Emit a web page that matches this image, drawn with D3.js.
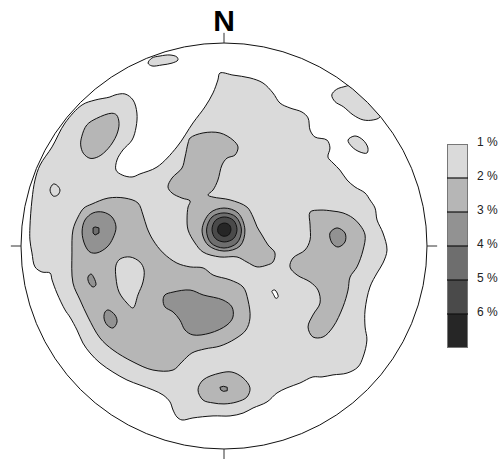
<!DOCTYPE html>
<html><head><meta charset="utf-8">
<script src="https://cdn.jsdelivr.net/npm/d3@7"></script>
<style>html,body{margin:0;padding:0;background:#fff;} svg{display:block;}</style>
</head><body>
<svg id="chart" width="504" height="459"></svg>
<script>
// ---- legend / levels ----
const levels = [1, 2, 3, 4, 5, 6];
const levelLabels = ["1 %", "2 %", "3 %", "4 %", "5 %", "6 %"];
const levelColors = ["#dadada", "#b6b6b6", "#929292", "#6e6e6e", "#4a4a4a", "#262626"];

// ---- contour polygons, net coordinates (east, north) in % of primitive radius ----
const level1Main = [[-2.0,85.2],[4.4,84.2],[12.8,82.8],[19.2,80.3],[24.1,75.4],[27.6,70.4],[32.5,68.0],[38.4,66.0],[41.4,63.1],[42.4,57.1],[44.8,53.7],[50.7,52.2],[52.2,48.3],[51.2,43.8],[53.7,40.9],[57.1,37.4],[60.6,32.5],[64.5,29.1],[69.5,26.1],[71.9,22.7],[74.4,18.7],[75.4,12.8],[78.3,6.4],[80.3,-2.0],[78.3,-8.4],[75.4,-13.3],[71.9,-20.2],[69.5,-31.5],[69.5,-39.9],[70.4,-46.3],[68.5,-54.7],[66.0,-59.6],[60.6,-62.6],[53.7,-63.5],[48.3,-64.5],[43.8,-64.5],[37.4,-67.5],[31.0,-69.9],[26.1,-72.4],[21.2,-76.8],[14.3,-79.8],[9.4,-82.3],[3.0,-83.7],[-5.4,-83.7],[-15.3,-84.7],[-20.7,-85.7],[-23.2,-84.2],[-25.1,-80.8],[-26.6,-76.8],[-30.0,-73.4],[-35.0,-70.9],[-41.4,-68.5],[-47.8,-66.0],[-54.7,-62.1],[-61.1,-57.6],[-66.0,-52.7],[-69.5,-47.8],[-72.4,-41.4],[-75.9,-35.0],[-78.3,-31.5],[-82.3,-23.2],[-84.7,-16.7],[-85.7,-13.3],[-89.7,-12.8],[-93.1,-10.3],[-94.6,-3.4],[-95.6,3.0],[-95.6,9.4],[-94.6,22.7],[-93.1,32.5],[-90.6,39.9],[-84.7,48.8],[-78.3,60.6],[-69.9,69.5],[-63.5,71.9],[-56.2,73.4],[-53.7,74.4],[-48.8,74.9],[-44.8,71.9],[-42.9,65.5],[-43.3,58.6],[-45.3,52.2],[-49.8,47.3],[-52.7,42.4],[-53.2,37.4],[-50.2,35.0],[-45.3,34.0],[-41.4,35.5],[-33.0,38.9],[-23.2,48.8],[-15.3,60.6],[-9.4,68.5],[-5.4,75.4],[-3.0,81.8]];
const level1Hole = [[23.6,-22.2],[25.1,-21.7],[26.7,-25.0],[25.6,-25.8],[24.4,-23.9]];
const level1NorthWest = [[-37.4,90.1],[-35.5,92.6],[-31.5,93.6],[-26.6,94.1],[-23.2,93.1],[-22.7,91.6],[-25.6,90.1],[-30.5,89.2],[-35.5,88.7]];
const level1NorthEastRim = [[53.1,74.4],[55.5,77.2],[60.4,78.8],[67.0,80.8],[79.3,71.9],[76.8,63.5],[73.5,62.1],[68.6,62.1],[63.7,64.5],[58.8,68.6],[54.7,71.1]];
const level1NorthEast = [[61.1,52.2],[64.5,54.2],[68.5,52.2],[70.9,48.3],[70.4,45.8],[67.0,46.3],[63.1,48.8]];
const level1West = [[-85.7,27.6],[-84.1,30.5],[-82.4,30.0],[-80.8,27.6],[-81.9,25.1],[-84.1,24.6]];

const level2NorthWest = [[-70.1,53.8],[-67.6,59.6],[-62.7,62.9],[-55.3,65.4],[-52.9,64.5],[-51.7,60.4],[-52.9,54.7],[-57.0,48.1],[-61.9,44.0],[-66.0,43.2],[-69.3,45.7],[-70.6,49.8]];
const level2Centre = [[-16.7,53.2],[-10.3,55.7],[-2.0,55.7],[4.4,52.2],[6.9,48.8],[5.4,44.8],[1.5,43.3],[-1.0,39.9],[-3.0,32.5],[-5.4,27.6],[-7.9,25.1],[-5.4,24.1],[3.0,22.7],[11.3,19.2],[14.3,14.3],[16.3,9.4],[18.7,5.4],[21.7,0.5],[25.1,-3.4],[24.1,-7.9],[21.2,-9.4],[16.3,-10.3],[11.3,-7.9],[6.4,-5.4],[-2.0,-5.4],[-10.3,-3.0],[-14.3,1.5],[-17.7,7.9],[-18.2,13.8],[-17.7,19.2],[-16.7,22.2],[-20.7,23.6],[-25.6,26.1],[-27.6,29.1],[-25.6,33.5],[-20.7,38.4],[-19.2,43.8],[-17.7,50.7]];
const level2SouthWest = [[-74.4,7.9],[-71.9,14.3],[-69.0,18.7],[-65.0,20.7],[-57.1,23.6],[-48.8,23.6],[-42.4,21.2],[-39.9,15.3],[-37.9,8.9],[-35.0,3.0],[-30.0,-3.4],[-23.2,-8.4],[-16.7,-10.3],[-10.3,-10.8],[-5.4,-14.3],[3.0,-16.7],[9.4,-20.2],[11.8,-26.6],[12.8,-35.5],[10.8,-41.4],[5.4,-45.8],[-2.0,-49.3],[-9.4,-50.7],[-15.8,-52.7],[-20.7,-57.1],[-25.1,-61.1],[-35.0,-61.1],[-44.8,-57.1],[-54.7,-51.2],[-61.1,-45.3],[-67.0,-35.0],[-70.9,-26.6],[-74.4,-18.2],[-74.9,-3.4]];
const level2SouthWestHole = [[-53.2,-9.4],[-51.2,-6.4],[-46.3,-5.4],[-41.4,-7.9],[-39.4,-11.8],[-39.9,-17.7],[-42.4,-24.1],[-44.8,-30.5],[-47.8,-28.1],[-51.7,-22.7],[-53.2,-15.8]];
const level2East = [[42.4,16.7],[47.3,17.7],[53.7,17.2],[58.6,16.3],[63.5,13.8],[67.0,10.3],[69.5,5.4],[68.5,-2.0],[65.5,-10.3],[62.1,-15.3],[61.1,-21.7],[58.6,-30.0],[53.7,-39.9],[48.8,-44.8],[43.8,-44.8],[41.4,-39.9],[43.8,-34.0],[47.3,-28.1],[46.3,-21.7],[42.4,-17.7],[36.0,-14.3],[32.5,-10.3],[34.0,-5.9],[39.9,-2.0],[42.4,3.0],[42.4,10.3]];
const level2South = [[-12.8,-70.9],[-10.3,-66.0],[-2.0,-62.6],[3.9,-62.1],[9.4,-65.0],[12.8,-69.9],[11.3,-74.4],[6.4,-76.8],[0.0,-77.8],[-5.4,-77.3],[-10.3,-75.9]];

const level3West = [[-69.9,6.9],[-68.5,12.8],[-64.5,16.3],[-59.6,16.7],[-55.2,14.3],[-53.2,9.4],[-54.7,3.9],[-57.6,-0.5],[-62.6,-3.4],[-66.0,-3.0],[-68.5,0.5]];
const level3WestSmall1 = [[-67.0,-15.3],[-65.5,-13.8],[-64.0,-15.8],[-63.1,-19.2],[-64.5,-20.2],[-66.5,-18.2]];
const level3WestSmall2 = [[-58.6,-32.5],[-57.1,-31.5],[-53.7,-34.0],[-52.7,-37.4],[-54.7,-40.4],[-57.6,-38.9],[-59.1,-35.5]];
const level3South = [[-29.1,-24.1],[-25.1,-22.7],[-16.7,-21.7],[-10.3,-24.1],[-0.5,-26.6],[3.9,-30.0],[4.4,-35.0],[1.5,-38.9],[-6.9,-42.9],[-15.3,-43.8],[-19.2,-41.4],[-21.7,-36.5],[-25.1,-32.5],[-29.1,-30.0],[-30.0,-26.6]];
const level3East = [[52.2,6.4],[55.7,8.9],[59.6,6.4],[59.6,2.0],[56.2,-0.5],[53.2,1.5]];
const level3SouthTiny = [[-2.0,-69.6],[-0.3,-69.1],[1.6,-69.6],[1.6,-71.3],[-0.3,-71.6],[-1.6,-70.9]];
const level3Centre = [[0.0,18.7],[6.9,16.3],[10.3,7.9],[7.9,0.0],[0.0,-2.5],[-7.9,0.5],[-10.8,7.9],[-6.9,16.3]];

const level4West = [[-64.5,8.9],[-63.5,9.4],[-61.6,8.9],[-61.6,6.4],[-63.5,5.4],[-64.5,6.4]];
const level4Centre = [[0.0,16.3],[5.9,14.3],[8.6,7.9],[6.4,1.5],[0.0,-1.0],[-6.4,1.5],[-8.6,7.9],[-5.9,14.3]];
const level5Centre = [[0.2,14.3],[4.7,12.6],[6.4,8.1],[4.7,3.7],[0.2,2.0],[-4.2,3.7],[-5.9,8.1],[-4.2,12.6]];
const level6Centre = [[0.2,11.3],[2.7,10.3],[3.4,7.9],[2.2,5.4],[-0.7,4.9],[-3.0,6.9],[-2.5,10.1]];

// compass ticks
const tickDirections = [[0, 1], [0, -1], [-1, 0], [1, 0]];

// ---- assembly ----
const contours = [
  {level: 1, rings: [level1Main, level1Hole], smooth: true},
  {level: 1, rings: [level1NorthWest], smooth: true},
  {level: 1, rings: [level1NorthEastRim], smooth: true},
  {level: 1, rings: [level1NorthEast], smooth: true},
  {level: 1, rings: [level1West], smooth: true},
  {level: 2, rings: [level2NorthWest], smooth: true},
  {level: 2, rings: [level2Centre], smooth: true},
  {level: 2, rings: [level2SouthWest, level2SouthWestHole], smooth: true},
  {level: 2, rings: [level2East], smooth: true},
  {level: 2, rings: [level2South], smooth: true},
  {level: 3, rings: [level3West], smooth: true},
  {level: 3, rings: [level3WestSmall1], smooth: true},
  {level: 3, rings: [level3WestSmall2], smooth: true},
  {level: 3, rings: [level3South], smooth: true},
  {level: 3, rings: [level3East], smooth: true},
  {level: 3, rings: [level3SouthTiny], smooth: false},
  {level: 3, rings: [level3Centre], smooth: true},
  {level: 4, rings: [level4West], smooth: false},
  {level: 4, rings: [level4Centre], smooth: true},
  {level: 5, rings: [level5Centre], smooth: true},
  {level: 6, rings: [level6Centre], smooth: true}
];

const svg = d3.select("#chart");
const cx = 224, cy = 246, R = 203;
const x = d3.scaleLinear().domain([-100, 100]).range([cx - R, cx + R]);
const y = d3.scaleLinear().domain([-100, 100]).range([cy + R, cy - R]);
const rScale = d3.scaleLinear().domain([0, 100]).range([0, R]);
const fill = d3.scaleOrdinal().domain(levels).range(levelColors);

svg.append("defs").append("clipPath").attr("id", "net")
  .append("circle").attr("cx", x(0)).attr("cy", y(0)).attr("r", rScale(100));

const smoothLine = d3.line().x(d => x(d[0])).y(d => y(d[1])).curve(d3.curveCatmullRomClosed.alpha(0.5));
const sharpLine = d3.line().x(d => x(d[0])).y(d => y(d[1])).curve(d3.curveLinearClosed);

const g = svg.append("g").attr("clip-path", "url(#net)");
g.selectAll("path").data(contours).join("path")
  .attr("d", c => c.rings.map(r => (c.smooth ? smoothLine : sharpLine)(r)).join(""))
  .attr("fill", c => fill(c.level))
  .attr("fill-rule", "evenodd")
  .attr("stroke", "#111")
  .attr("stroke-width", 1)
  .attr("stroke-linejoin", "round");

// primitive circle
svg.append("circle").attr("cx", x(0)).attr("cy", y(0)).attr("r", rScale(100))
  .attr("fill", "none").attr("stroke", "#111").attr("stroke-width", 1);

// ticks
svg.selectAll("line.tick").data(tickDirections).join("line").attr("class", "tick")
  .attr("x1", d => x(d[0] * 100)).attr("y1", d => y(d[1] * 100))
  .attr("x2", d => x(d[0] * 105)).attr("y2", d => y(d[1] * 105))
  .attr("stroke", "#333").attr("stroke-width", 1);

// North label
svg.append("text").attr("x", x(0)).attr("y", y(100) - 12)
  .attr("text-anchor", "middle")
  .attr("font-family", "'Liberation Sans', Arial, sans-serif")
  .attr("font-weight", "bold").attr("font-size", 30).attr("fill", "#000")
  .text("N");

// legend
const lx = 447, lw = 21;
const ly = d3.scaleLinear().domain([1, 7]).range([144, 348]);
const leg = svg.append("g");
leg.selectAll("rect").data(levels).join("rect")
  .attr("x", lx).attr("y", d => ly(d)).attr("width", lw)
  .attr("height", d => ly(d + 1) - ly(d))
  .attr("fill", d => fill(d));
leg.append("rect").attr("x", lx + 0.5).attr("y", ly(1) + 0.5).attr("width", lw - 1)
  .attr("height", ly(7) - ly(1) - 1).attr("fill", "none").attr("stroke", "#777");
leg.selectAll("line").data(levels.slice(1)).join("line")
  .attr("x1", lx).attr("x2", lx + lw)
  .attr("y1", d => ly(d)).attr("y2", d => ly(d))
  .attr("stroke", "#111").attr("stroke-width", 1.2);
leg.selectAll("text").data(levels).join("text")
  .attr("x", 477).attr("y", d => ly(d) + 2)
  .attr("font-family", "'Liberation Sans', Arial, sans-serif")
  .attr("font-size", 12).attr("fill", "#222")
  .text((d, i) => levelLabels[i]);
</script>
</body></html>
